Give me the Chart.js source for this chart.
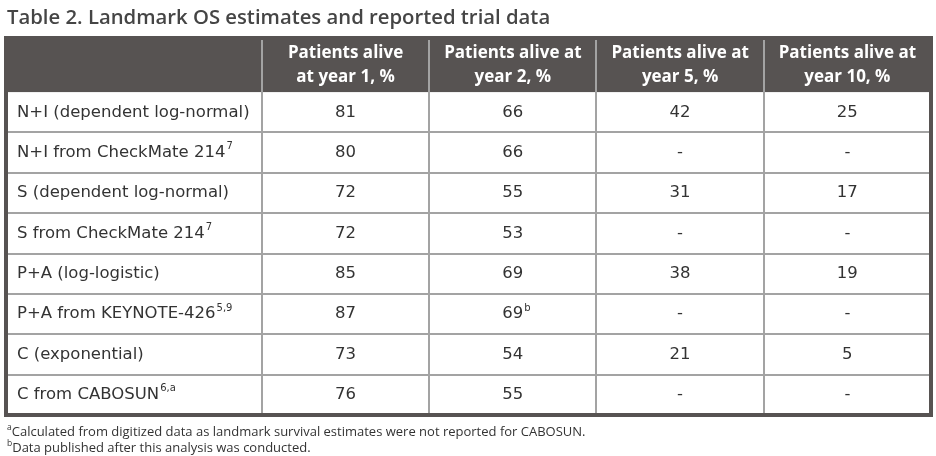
<!DOCTYPE html>
<html lang="en">
<head>
<meta charset="UTF-8" />
<title>Table 2. Landmark OS estimates and reported trial data</title>
<script src="https://cdn.jsdelivr.net/npm/chart.js"></script>
<style>
  html, body { margin: 0; padding: 0; background: #fff; }
  canvas { display: block; }
</style>
</head>
<body>
<canvas id="osTable" width="936" height="456"></canvas>
<script>
// table content
const tableTitle = "Table 2. Landmark OS estimates and reported trial data";
const columnHeaders = [
  ["Patients alive", "at year 1, %"],
  ["Patients alive at", "year 2, %"],
  ["Patients alive at", "year 5, %"],
  ["Patients alive at", "year 10, %"],
];
const rowLabels = [
  "N+I (dependent log-normal)",
  "N+I from CheckMate 214",
  "S (dependent log-normal)",
  "S from CheckMate 214",
  "P+A (log-logistic)",
  "P+A from KEYNOTE-426",
  "C (exponential)",
  "C from CABOSUN",
];
const rowRefs = ["", "7", "", "7", "", "5,9", "", "6,a"];
const year1 = [81, 80, 72, 72, 85, 87, 73, 76];
const year2 = [66, 66, 55, 53, 69, 69, 54, 55];
const year5 = [42, null, 31, null, 38, null, 21, null];
const year10 = [25, null, 17, null, 19, null, 5, null];
const year2Refs = ["", "", "", "", "", "b", "", ""];
const footnotes = [
  ["a", "Calculated from digitized data as landmark survival estimates were not reported for CABOSUN."],
  ["b", "Data published after this analysis was conducted."],
];

const yearColumns = [year1, year2, year5, year10];
const cellRefs = [null, year2Refs, null, null];

// layout in scale units: first column is wider, header row is taller
const LABEL_W = 1.53;
const HEADER_H = 1.34;
const BODY_FONT = "'DejaVu Sans', Verdana, sans-serif";
const HEAD_FONT = "'Open Sans', 'DejaVu Sans', sans-serif";
const HEADER_BG = "#575352";
const TEXT = "#333333";

function drawWithSup(ctx, text, sup, x, y, size, align) {
  const mainFont = size + "px " + BODY_FONT;
  const supFont = Math.round(size * 0.62) + "px " + BODY_FONT;
  ctx.textAlign = "left";
  ctx.font = mainFont;
  const w = ctx.measureText(text).width;
  const left = align === "center" ? x - w / 2 : x; // number stays centred, sup hangs right
  ctx.fillText(text, left, y);
  if (sup) {
    ctx.font = supFont;
    ctx.fillText(sup, left + w + 1, y - size * 0.36);
  }
}

const tablePlugin = {
  id: "tableGrid",
  beforeDatasetsDraw(chart) {
    const { ctx, chartArea: a, scales: { x, y } } = chart;
    const headerBottom = y.getPixelForValue(HEADER_H);
    ctx.save();
    ctx.fillStyle = "#fff";
    ctx.fillRect(a.left, a.top, a.right - a.left, a.bottom - a.top);
    ctx.fillStyle = HEADER_BG;
    ctx.fillRect(a.left, a.top, a.right - a.left, headerBottom - a.top);

    ctx.strokeStyle = "#a3a3a3";
    ctx.lineWidth = 2;
    ctx.beginPath();
    for (let r = 1; r < rowLabels.length; r++) {
      const py = Math.round(y.getPixelForValue(HEADER_H + r));
      ctx.moveTo(a.left, py);
      ctx.lineTo(a.right, py);
    }
    for (let c = 0; c < yearColumns.length; c++) {
      const px = Math.round(x.getPixelForValue(LABEL_W + c));
      ctx.moveTo(px, a.top);
      ctx.lineTo(px, a.bottom);
    }
    ctx.stroke();

    ctx.strokeStyle = HEADER_BG;
    ctx.lineWidth = 4;
    ctx.strokeRect(a.left, a.top, a.right - a.left, a.bottom - a.top);
    ctx.restore();
  },
  afterDatasetsDraw(chart) {
    const { ctx, chartArea: a, scales: { x, y } } = chart;
    ctx.save();
    ctx.textBaseline = "middle";

    // title
    ctx.fillStyle = "#454545";
    ctx.textAlign = "left";
    ctx.font = "600 20.3px " + HEAD_FONT;
    ctx.fillText(tableTitle, a.left + 1, a.top - 20);

    // header
    ctx.fillStyle = "#fff";
    ctx.textAlign = "center";
    ctx.font = "bold 17px " + HEAD_FONT;
    const hMid = y.getPixelForValue(HEADER_H / 2);
    columnHeaders.forEach((lines, c) => {
      const cx = x.getPixelForValue(LABEL_W + c + 0.5);
      ctx.fillText(lines[0], cx, hMid - 12);
      ctx.fillText(lines[1], cx, hMid + 12);
    });

    // row labels
    ctx.fillStyle = TEXT;
    rowLabels.forEach((label, r) => {
      const py = y.getPixelForValue(HEADER_H + r + 0.5);
      drawWithSup(ctx, label, rowRefs[r], a.left + 11, py, 16.5, "left");
    });

    // values, placed at the scatter points
    chart.data.datasets.forEach((ds, c) => {
      const meta = chart.getDatasetMeta(c);
      meta.data.forEach((pt, r) => {
        const v = yearColumns[c][r];
        const sup = cellRefs[c] ? cellRefs[c][r] : "";
        drawWithSup(ctx, v === null ? "-" : String(v), sup, pt.x, pt.y, 16.5, "center");
      });
    });

    // footnotes
    ctx.fillStyle = "#333";
    ctx.textAlign = "left";
    footnotes.forEach(([mark, text], i) => {
      const py = a.bottom + 17 + i * 16;
      ctx.font = "8.5px " + HEAD_FONT;
      ctx.fillText(mark, a.left + 1, py - 4);
      const mw = ctx.measureText(mark).width;
      ctx.font = "13px " + HEAD_FONT;
      ctx.fillText(text, a.left + 1 + mw, py);
    });
    ctx.restore();
  },
};

const ctx = document.getElementById("osTable").getContext("2d");
new Chart(ctx, {
  type: "scatter",
  data: {
    datasets: yearColumns.map((vals, c) => ({
      label: columnHeaders[c].join(" "),
      data: vals.map((v, r) => ({ x: LABEL_W + c + 0.5, y: HEADER_H + r + 0.5 })),
      pointRadius: 0,
      pointHoverRadius: 0,
    })),
  },
  options: {
    responsive: false,
    animation: false,
    events: [],
    layout: { padding: { left: 6, right: 5, top: 38, bottom: 41 } },
    plugins: { legend: { display: false }, tooltip: { enabled: false } },
    scales: {
      x: { type: "linear", display: false, min: 0, max: LABEL_W + yearColumns.length },
      y: { type: "linear", display: false, reverse: true, min: 0, max: HEADER_H + rowLabels.length },
    },
  },
  plugins: [tablePlugin],
});
</script>
</body>
</html>
